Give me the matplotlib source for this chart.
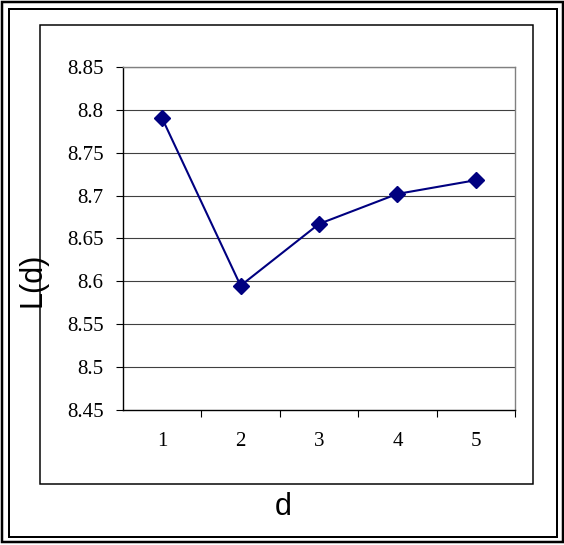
import matplotlib
matplotlib.use("Agg")
import matplotlib.pyplot as plt
from matplotlib.patches import Rectangle

d = [1, 2, 3, 4, 5]
L = [8.79, 8.595, 8.667, 8.702, 8.718]
yticks = [8.45, 8.5, 8.55, 8.6, 8.65, 8.7, 8.75, 8.8, 8.85]
ylabels = ["8.45", "8.5", "8.55", "8.6", "8.65", "8.7", "8.75", "8.8", "8.85"]

W, H = 564, 545
fig = plt.figure(figsize=(W / 100, H / 100), dpi=100)


def box(x0, y0, x1, y1, lw, color="black"):
    # pixel coords, origin at top-left
    fig.patches.append(Rectangle((x0 / W, 1 - y1 / H), (x1 - x0) / W, (y1 - y0) / H,
                                 transform=fig.transFigure, fill=False,
                                 lw=lw * 0.72, ec=color, zorder=0))


box(2, 2, 563, 542, 2.5)
box(9, 9, 557, 537, 2)
box(40, 25, 533, 484, 1.5)

ax = fig.add_axes([123 / W, 1 - 410 / H, 392 / W, 343 / H])
for yy in yticks[1:]:
    ax.axhline(yy, color="#404040", lw=0.8, zorder=1)
ax.plot(d, L, color="#000080", lw=1.5, marker="D", markersize=8.5, zorder=3)

ax.set_xlim(0.5, 5.5)
ax.set_ylim(8.45, 8.85)
ax.set_yticks(yticks)
ax.set_yticklabels(ylabels, family="Liberation Serif", fontsize=15)
ax.set_xticks([1.5, 2.5, 3.5, 4.5, 5.5])
ax.set_xticklabels([])
ax.set_xticks(d, minor=True)
ax.set_xticklabels([str(v) for v in d], minor=True, family="Liberation Serif", fontsize=15)
ax.tick_params(axis="x", which="minor", length=0, pad=16)
ax.tick_params(axis="x", which="major", length=5, width=0.8, direction="out")
ax.tick_params(axis="y", length=5, width=0.8, direction="out", pad=9)

ax.spines["left"].set_color("black")
ax.spines["bottom"].set_color("black")
ax.spines["top"].set_color("#808080")
ax.spines["right"].set_color("#808080")
for s in ax.spines.values():
    s.set_linewidth(1.0)

fig.text(32 / W, 1 - 280 / H, "L(d)", rotation=90, ha="center", va="center",
         family="Liberation Sans", fontsize=22)
fig.text(283 / W, 1 - 507 / H, "d", ha="center", va="center",
         family="Liberation Sans", fontsize=22)

fig.savefig("out.png", dpi=100)
